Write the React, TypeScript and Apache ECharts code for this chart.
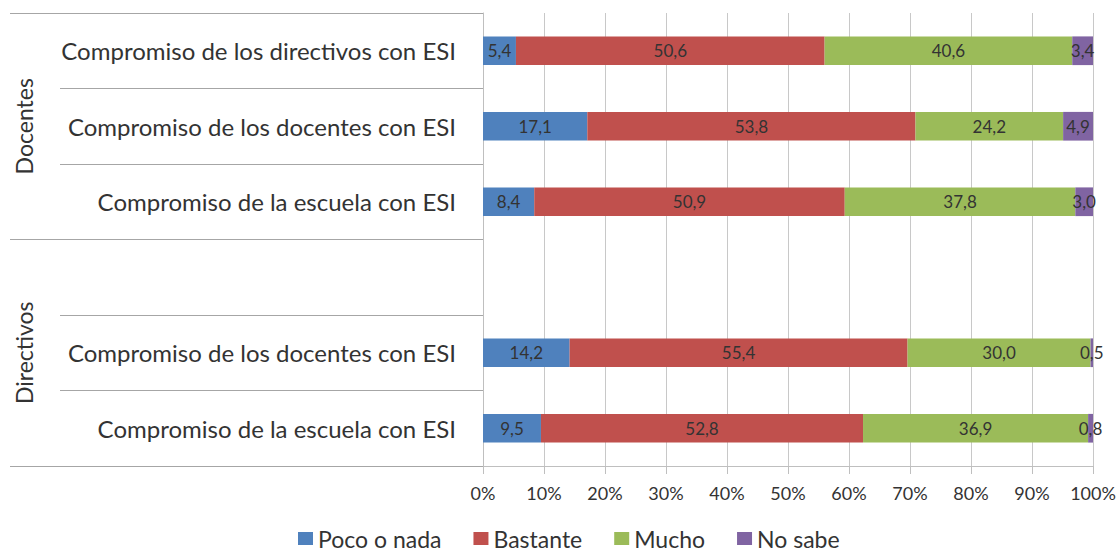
import React, { useEffect, useRef } from "react";
import * as echarts from "echarts";

const categories = [
  "Compromiso de los directivos con ESI",
  "Compromiso de los docentes con ESI",
  "Compromiso de la escuela con ESI",
  "",
  "Compromiso de los docentes con ESI",
  "Compromiso de la escuela con ESI",
];
const groups = ["Docentes", "Directivos"];
const seriesNames = ["Poco o nada", "Bastante", "Mucho", "No sabe"];
const pocoONada = [5.4, 17.1, 8.4, null, 14.2, 9.5];
const bastante = [50.6, 53.8, 50.9, null, 55.4, 52.8];
const mucho = [40.6, 24.2, 37.8, null, 30.0, 36.9];
const noSabe = [3.4, 4.9, 3.0, null, 0.5, 0.8];
const colors = ["#4F81BD", "#C0504D", "#9BBB59", "#8064A2"];

const FONT = "Lato, 'Open Sans', sans-serif";
const TEXT = "#333333";

export default function App() {
  const ref = useRef<HTMLDivElement>(null);
  useEffect(() => {
    if (!ref.current) return;
    const chart = echarts.init(ref.current, null, { renderer: "svg" });
    const values = [pocoONada, bastante, mucho, noSabe];
    chart.setOption({
      animation: false,
      textStyle: { fontFamily: FONT },
      grid: { left: 483, right: 26, top: 13, bottom: 89, containLabel: false },
      legend: {
        data: seriesNames,
        top: 527,
        left: 298,
        icon: "rect",
        itemWidth: 15,
        itemHeight: 13,
        itemGap: 32,
        padding: 0,
        textStyle: { fontSize: 23, color: TEXT, fontFamily: FONT },
      },
      xAxis: {
        type: "value",
        min: 0,
        max: 100,
        interval: 10,
        axisLabel: {
          formatter: "{value}%",
          fontSize: 18,
          color: TEXT,
          margin: 18,
          fontFamily: FONT,
        },
        axisLine: { show: true, lineStyle: { color: "#bfbfbf" } },
        axisTick: { show: true, length: 8, lineStyle: { color: "#bfbfbf" } },
        splitLine: { show: true, lineStyle: { color: "#c8c8c8" } },
      },
      yAxis: [
        {
          type: "category",
          data: categories,
          inverse: true,
          axisLine: { show: true, lineStyle: { color: "#bfbfbf" } },
          axisTick: { show: true, length: 423, lineStyle: { color: "#a6a6a6" } },
          axisLabel: {
            fontSize: 24,
            color: TEXT,
            margin: 27,
            fontFamily: FONT,
          },
        },
        {
          type: "category",
          data: groups,
          inverse: true,
          position: "left",
          axisLine: { show: false },
          axisTick: { show: true, length: 473, lineStyle: { color: "#a6a6a6" } },
          axisLabel: {
            rotate: 90,
            align: "center",
            verticalAlign: "middle",
            margin: 459,
            fontSize: 23,
            color: TEXT,
            fontFamily: FONT,
          },
        },
      ],
      series: seriesNames.map((name, i) => ({
        name,
        type: "bar",
        stack: "total",
        yAxisIndex: 0,
        barWidth: "38%",
        itemStyle: { color: colors[i] },
        label: {
          show: true,
          position: "inside",
          color: TEXT,
          fontSize: 17,
          fontFamily: FONT,
          formatter: (p: any) =>
            p.value == null ? "" : Number(p.value).toFixed(1).replace(".", ","),
        },
        data: values[i],
      })),
    });
    return () => chart.dispose();
  }, []);
  return (
    <div
      ref={ref}
      style={{ position: "absolute", left: 0, top: 0, width: 1119, height: 555 }}
    />
  );
}
